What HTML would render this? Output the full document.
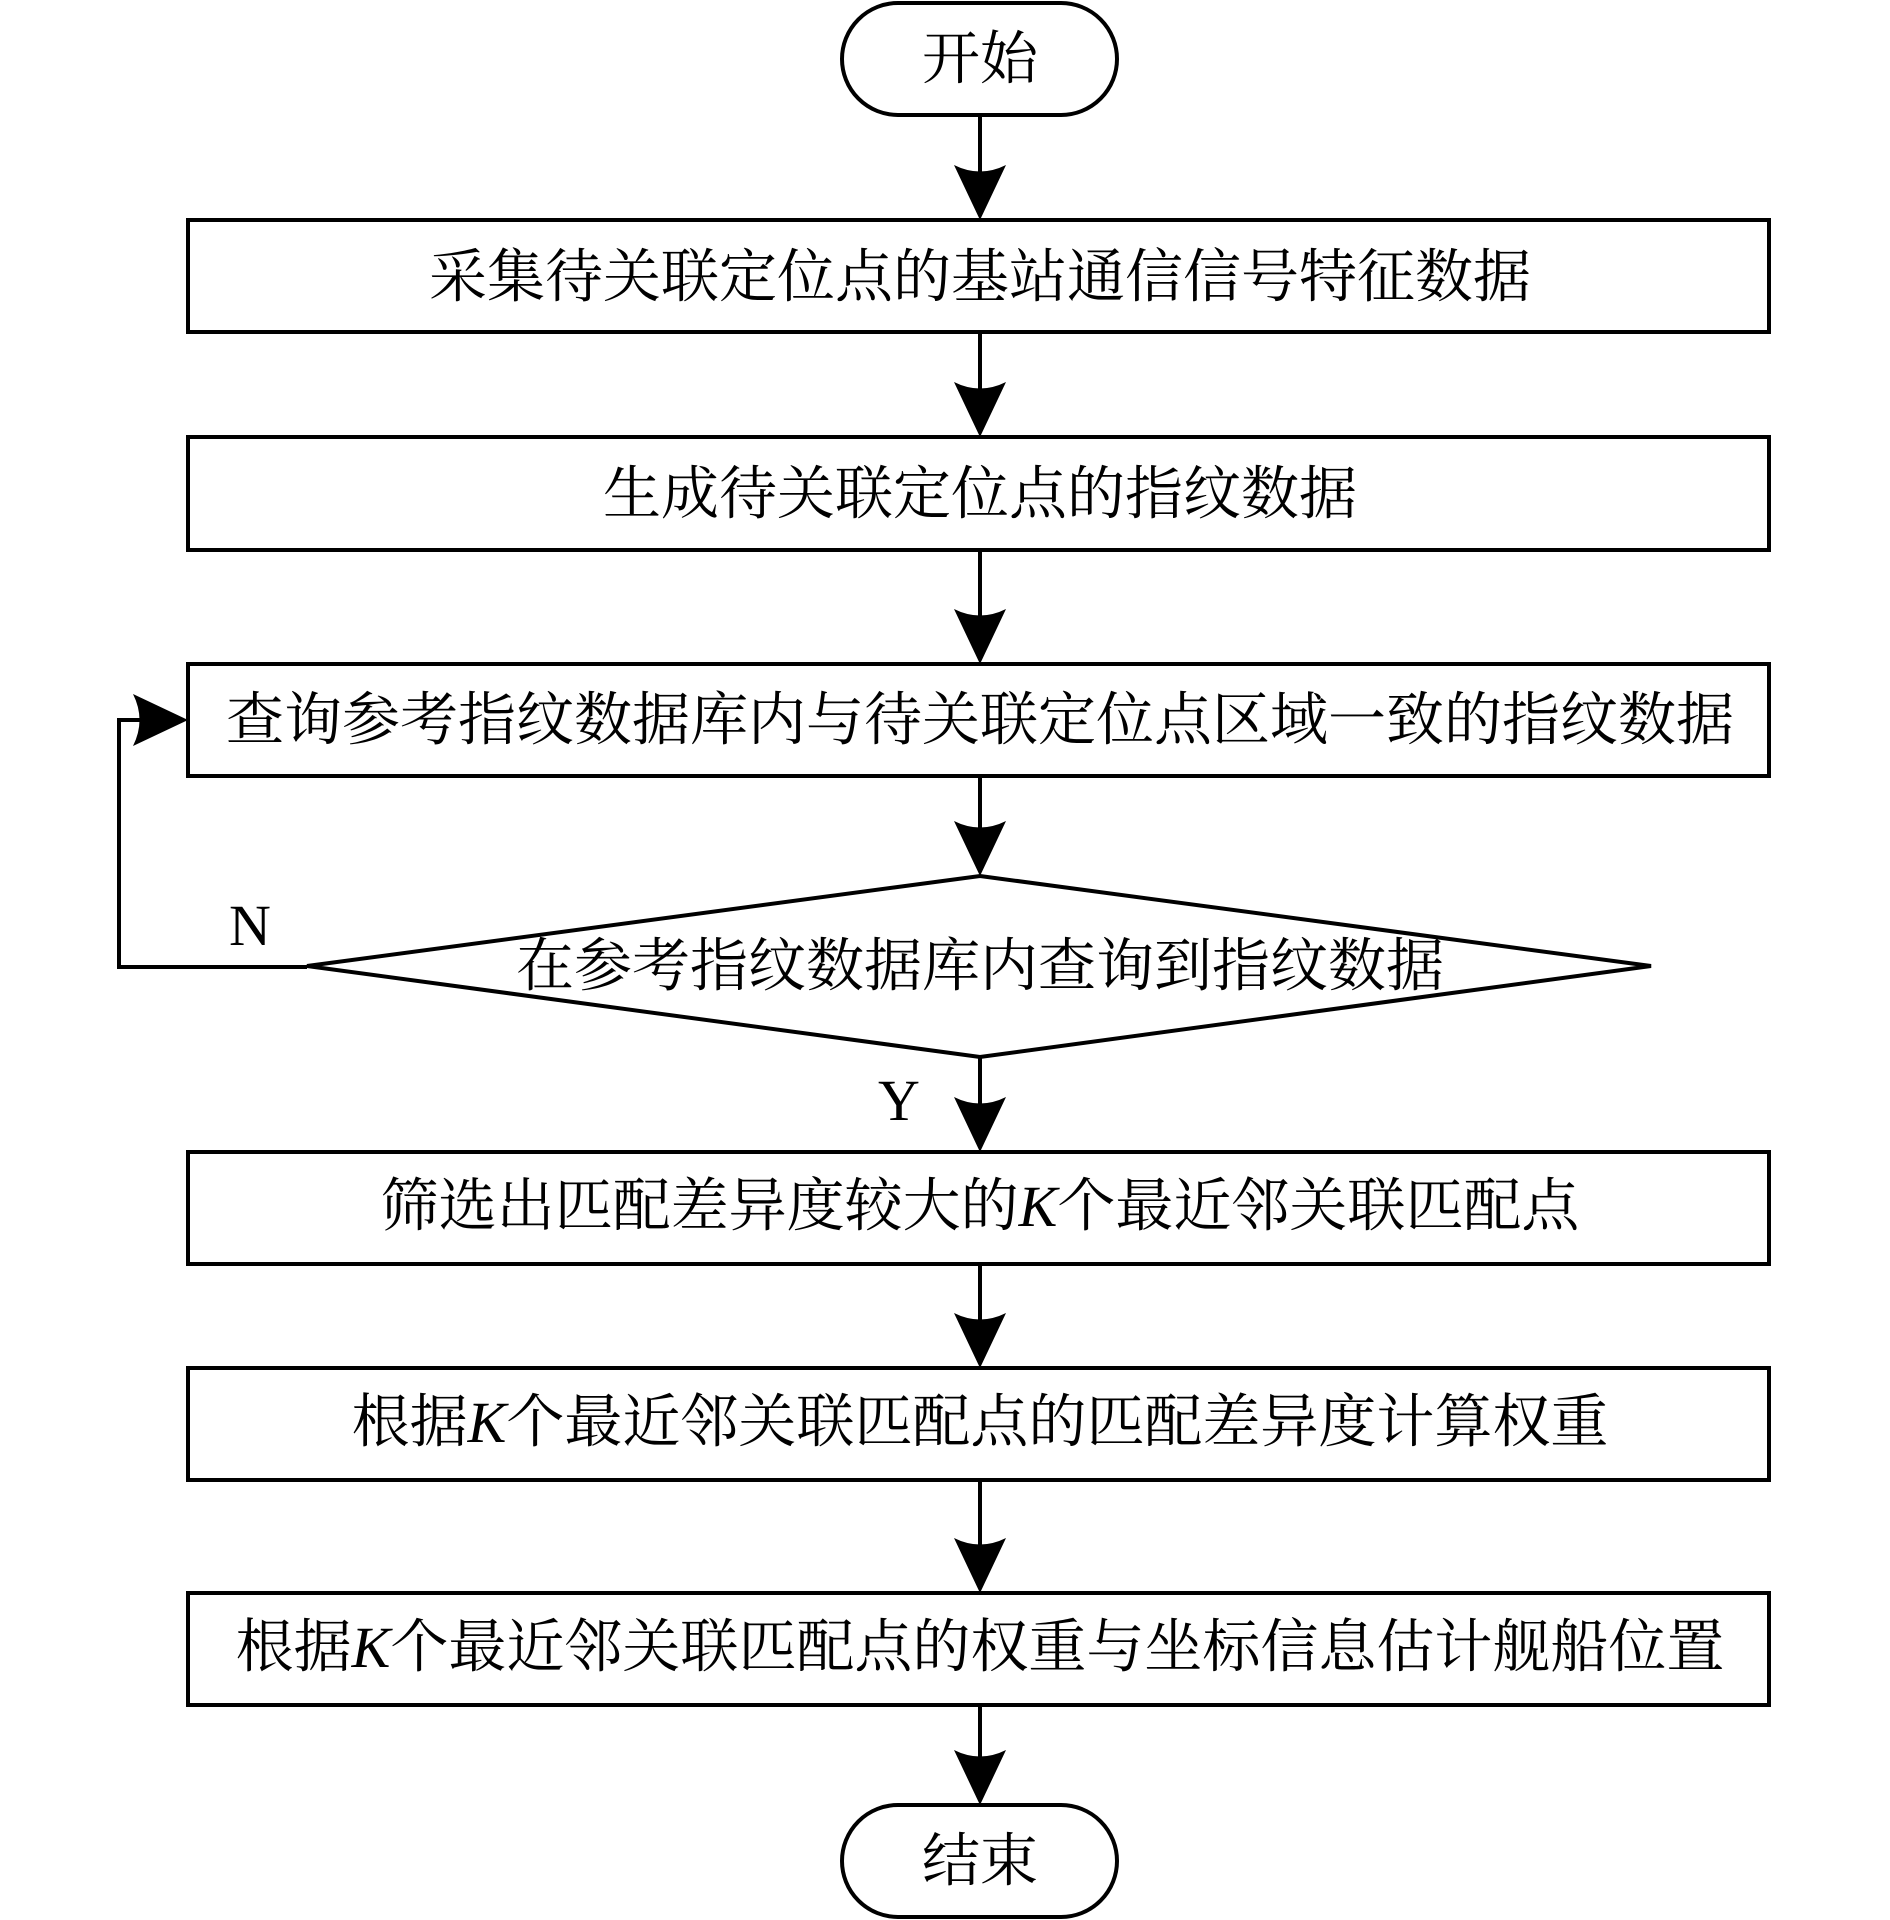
<!DOCTYPE html>
<html><head><meta charset="utf-8"><style>
html,body{margin:0;padding:0;background:#fff;}
svg{display:block;}
text{font-family:"Liberation Serif","Noto Serif CJK SC",serif;font-size:58px;fill:#000;}
</style></head><body>
<svg width="1890" height="1920" viewBox="0 0 1890 1920" xmlns="http://www.w3.org/2000/svg">
<defs>
<path id="ah" d="M0,0 L-26,-55 Q0,-42 26,-55 Z" fill="#000"/>
</defs>
<g fill="none" stroke="#000" stroke-width="4">
<rect x="842" y="3" width="275" height="112" rx="56" ry="56"/>
<rect x="188" y="220" width="1581" height="112"/>
<rect x="188" y="437" width="1581" height="113"/>
<rect x="188" y="664" width="1581" height="112"/>
<polygon points="980,876 1651,966 980,1057 307,966"/>
<rect x="188" y="1152" width="1581" height="112"/>
<rect x="188" y="1368" width="1581" height="112"/>
<rect x="188" y="1593" width="1581" height="112"/>
<rect x="842" y="1805" width="275" height="112" rx="56" ry="56"/>
<line x1="980" y1="115" x2="980" y2="200"/>
<line x1="980" y1="332" x2="980" y2="420"/>
<line x1="980" y1="550" x2="980" y2="645"/>
<line x1="980" y1="776" x2="980" y2="860"/>
<line x1="980" y1="1057" x2="980" y2="1135"/>
<line x1="980" y1="1264" x2="980" y2="1350"/>
<line x1="980" y1="1480" x2="980" y2="1575"/>
<line x1="980" y1="1705" x2="980" y2="1790"/>
<polyline points="307,967 119,967 119,720 170,720"/>
</g>
<use href="#ah" transform="translate(980,220)"/>
<use href="#ah" transform="translate(980,437)"/>
<use href="#ah" transform="translate(980,664)"/>
<use href="#ah" transform="translate(980,876)"/>
<use href="#ah" transform="translate(980,1152)"/>
<use href="#ah" transform="translate(980,1368)"/>
<use href="#ah" transform="translate(980,1593)"/>
<use href="#ah" transform="translate(980,1805)"/>
<use href="#ah" transform="translate(188,720) rotate(-90)"/>
<g text-anchor="middle" dominant-baseline="central">
<text x="980" y="59">开始</text>
<text x="980" y="277">采集待关联定位点的基站通信信号特征数据</text>
<text x="980" y="494">生成待关联定位点的指纹数据</text>
<text x="980" y="720">查询参考指纹数据库内与待关联定位点区域一致的指纹数据</text>
<text x="980" y="966">在参考指纹数据库内查询到指纹数据</text>
<text x="980" y="1206">筛选出匹配差异度较大的<tspan font-style="italic">K</tspan>个最近邻关联匹配点</text>
<text x="980" y="1422">根据<tspan font-style="italic">K</tspan>个最近邻关联匹配点的匹配差异度计算权重</text>
<text x="980" y="1647">根据<tspan font-style="italic">K</tspan>个最近邻关联匹配点的权重与坐标信息估计舰船位置</text>
<text x="980" y="1861">结束</text>
</g>
<text x="229" y="945">N</text>
<text x="878" y="1120">Y</text>
</svg>
</body></html>
